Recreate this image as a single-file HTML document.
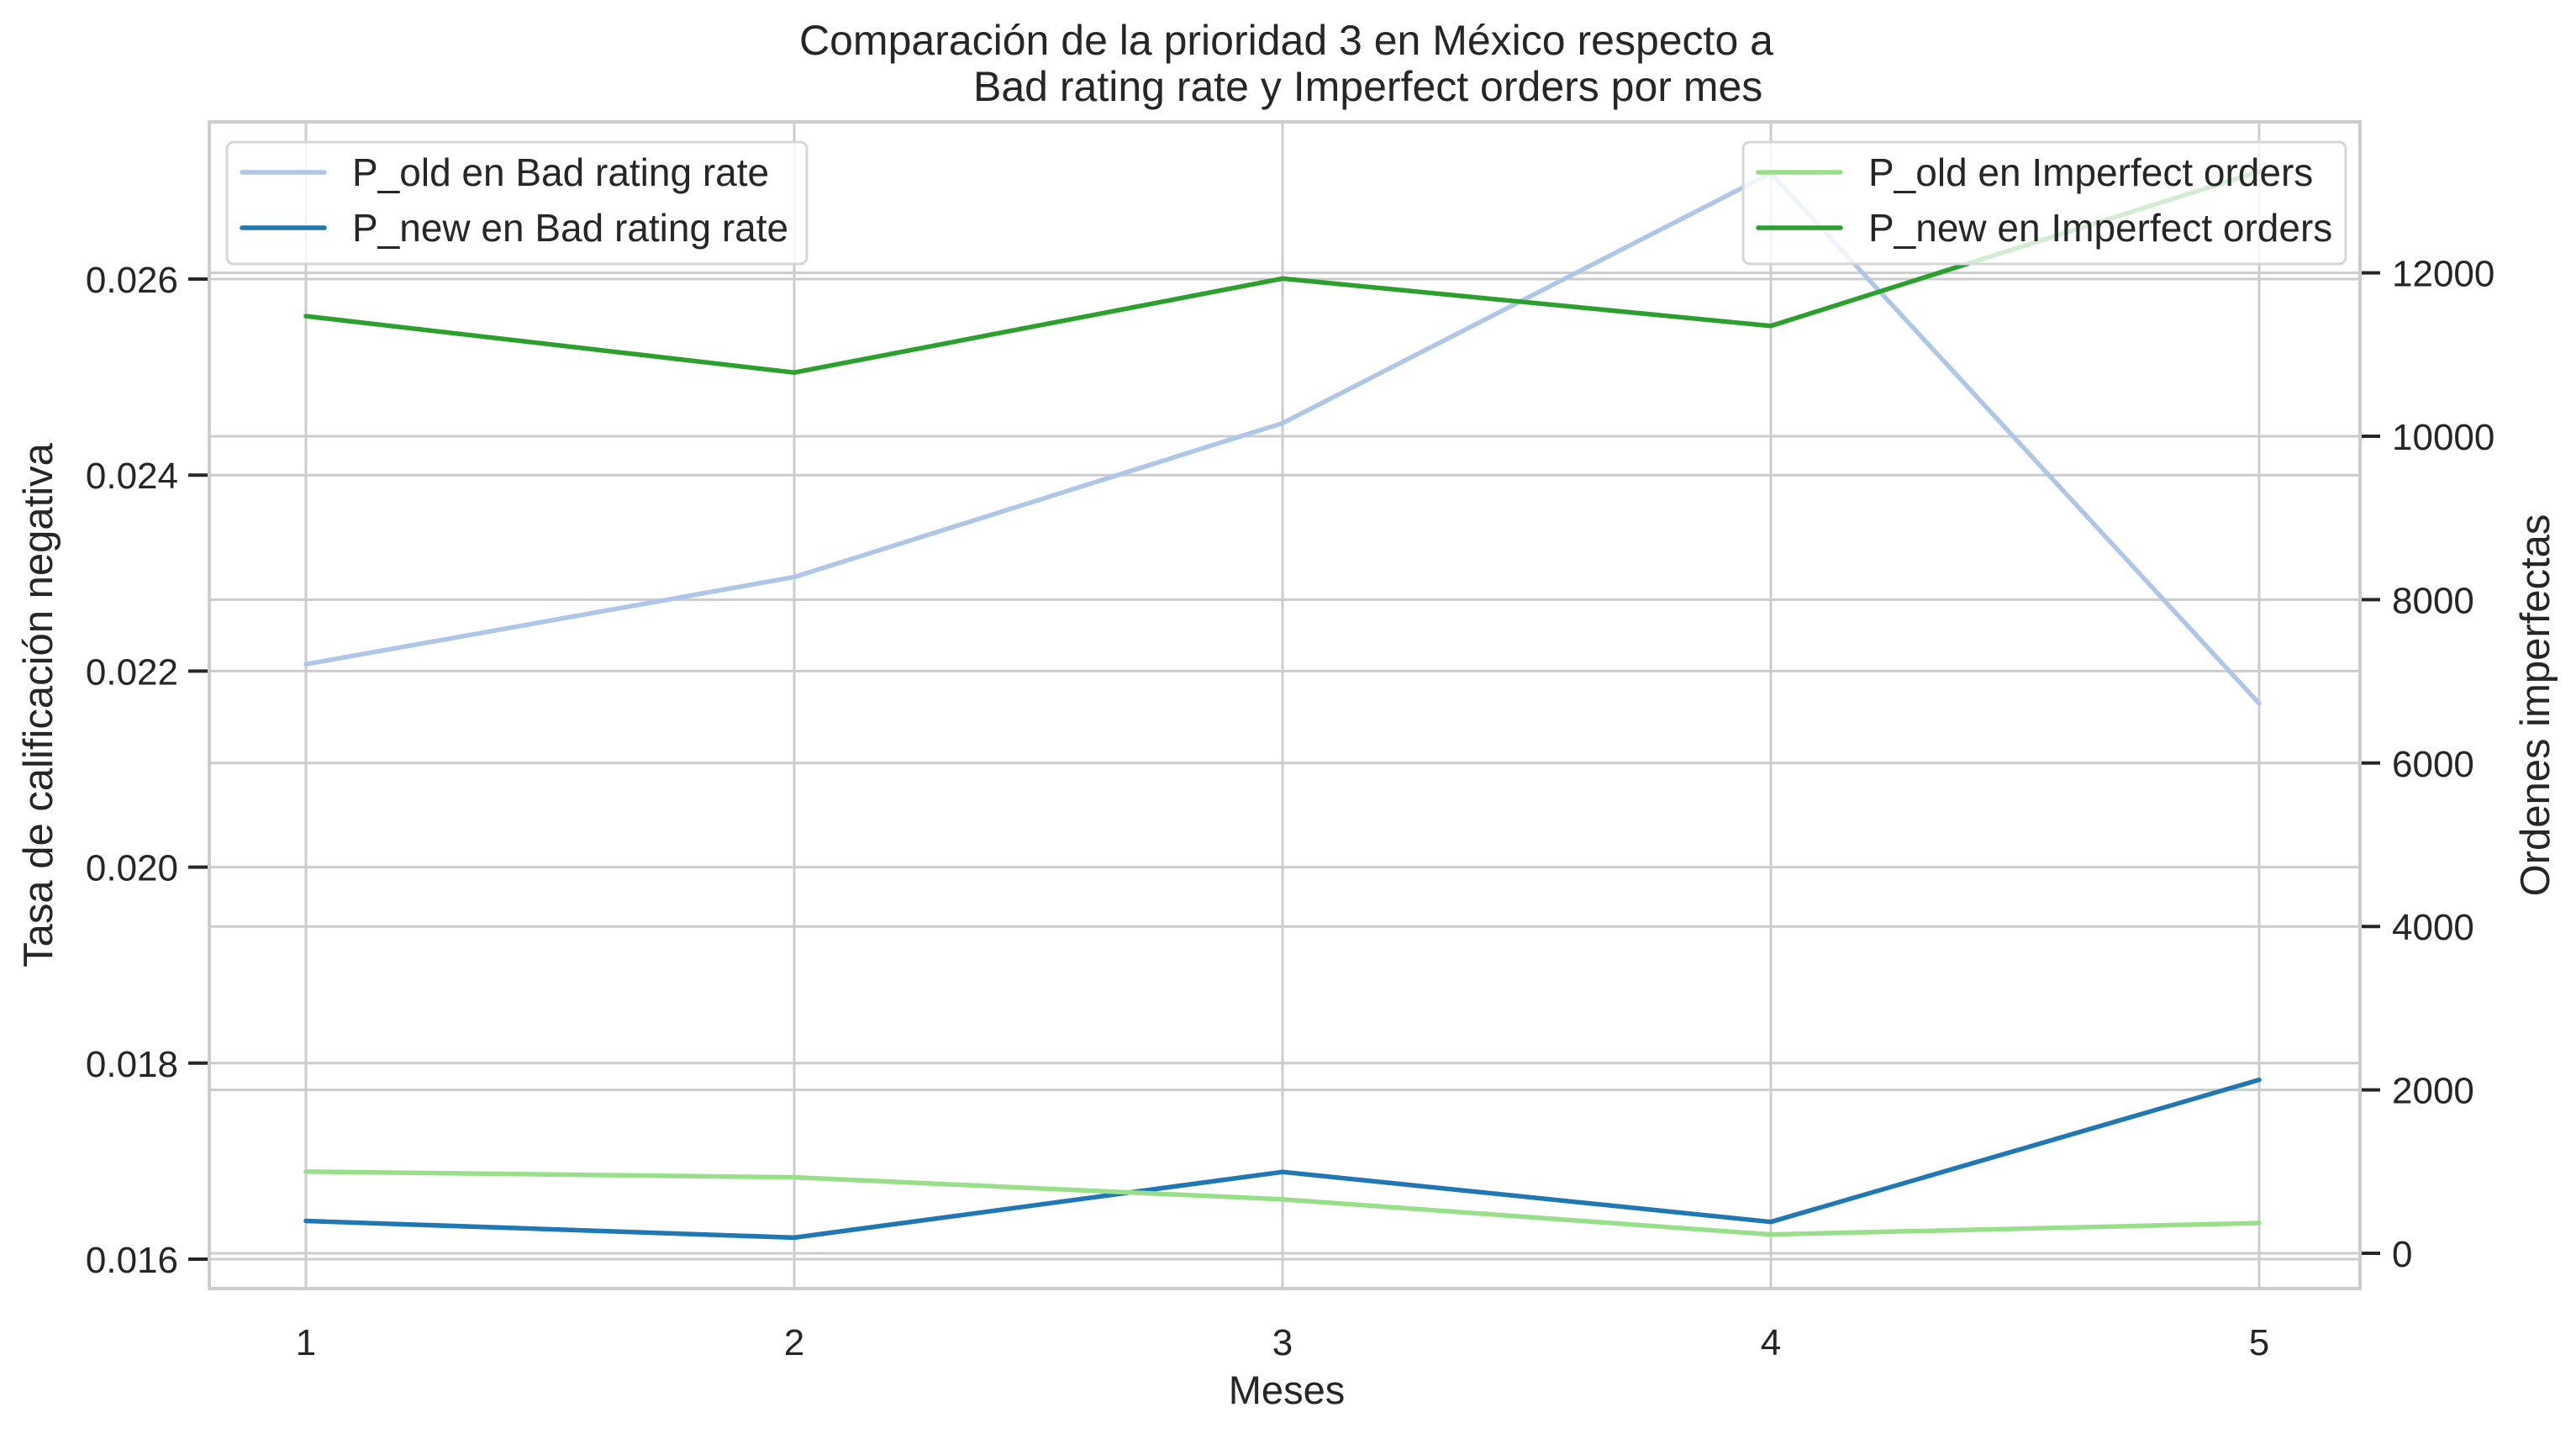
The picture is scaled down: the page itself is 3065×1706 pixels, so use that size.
<!DOCTYPE html>
<html><head><meta charset="utf-8"><style>body{margin:0;background:#fff}svg{display:block}text{font-family:"Liberation Sans",Arial,sans-serif;fill:#262626}</style></head>
<body>
<svg id="chart" width="3065" height="1706" viewBox="0 0 3065 1706">
<g id="grid"></g><g id="series"></g><g id="axes"></g><g id="legends"></g>
<text x="951" y="65" font-size="50">Comparación de la prioridad 3 en México respecto a</text>
<text x="1158" y="120" font-size="50">Bad rating rate y Imperfect orders por mes</text>
<text x="1531" y="1670" font-size="47" text-anchor="middle">Meses</text>
<text transform="translate(62,839) rotate(-90)" font-size="49" text-anchor="middle">Tasa de calificación negativa</text>
<text transform="translate(3033,839) rotate(-90)" font-size="49" text-anchor="middle">Ordenes imperfectas</text>
</svg>
<script>
const months = [1, 2, 3, 4, 5];
const badOld = [0.02207, 0.02296, 0.02453, 0.02708, 0.02167];
const badNew = [0.01639, 0.01622, 0.01689, 0.01638, 0.01783];
const impOld = [1000, 930, 660, 230, 370];
const impNew = [11470, 10780, 11930, 11350, 13240];
const leftTicks = [0.016, 0.018, 0.020, 0.022, 0.024, 0.026];
const rightTicks = [0, 2000, 4000, 6000, 8000, 10000, 12000];

const NS = "http://www.w3.org/2000/svg";
const L = 249, R = 2808, T = 145, B = 1533;
const xs = m => 364 + (m - 1) * 581;
const yl = v => 1498 - (v - 0.016) * 116600;
const yr = v => 1491 - v * 0.0972;
function mk(tag, attrs, parent) {
  const e = document.createElementNS(NS, tag);
  for (const k in attrs) e.setAttribute(k, attrs[k]);
  document.getElementById(parent).appendChild(e);
  return e;
}
const gc = "#cccccc";
months.forEach(m => {
  const l = mk("line", {x1: xs(m), x2: xs(m), y1: T, y2: B, stroke: gc, "stroke-width": 3}, "grid");
  
  
  const t = mk("text", {x: xs(m), y: 1612, "font-size": 44, "text-anchor": "middle"}, "axes");
  t.textContent = m;
  
  
});
leftTicks.forEach(v => {
  const l = mk("line", {x1: L, x2: R, y1: yl(v), y2: yl(v), stroke: gc, "stroke-width": 3}, "grid");
  
  
  const tk = mk("line", {x1: 224, x2: L, y1: yl(v), y2: yl(v), stroke: "#262626", "stroke-width": 4}, "axes");
  
  
  const t = mk("text", {x: 212, y: yl(v) + 16, "font-size": 44, "text-anchor": "end"}, "axes");
  t.textContent = v.toFixed(3);
  
  
});
rightTicks.forEach(v => {
  const l = mk("line", {x1: L, x2: R, y1: yr(v), y2: yr(v), stroke: gc, "stroke-width": 3}, "grid");
  
  
  const tk = mk("line", {x1: R, x2: 2832, y1: yr(v), y2: yr(v), stroke: "#262626", "stroke-width": 4}, "axes");
  
  
  const t = mk("text", {x: 2846, y: yr(v) + 16, "font-size": 44}, "axes");
  t.textContent = v;
  
  
});
const frame = mk("rect", {x: L, y: T, width: R - L, height: B - T, fill: "none", stroke: gc, "stroke-width": 4}, "axes");



const series = [
  {d: badOld, y: yl, c: "#aec7e8", n: "p-old-bad-rating-line"},
  {d: badNew, y: yl, c: "#1f77b4", n: "p-new-bad-rating-line"},
  {d: impOld, y: yr, c: "#98df8a", n: "p-old-imperfect-orders-line"},
  {d: impNew, y: yr, c: "#2ca02c", n: "p-new-imperfect-orders-line"}
];
series.forEach(s => {
  const p = mk("polyline", {points: s.d.map((v, i) => xs(months[i]) + "," + s.y(v)).join(" "), fill: "none", stroke: s.c, "stroke-width": 5.5, "stroke-linejoin": "round", "stroke-linecap": "round"}, "series");
  
  
});

function legend(x, w, items, name) {
  const box = mk("rect", {x: x, y: 169, width: w, height: 145, rx: 8, fill: "#fff", "fill-opacity": 0.8, stroke: "#d6d6d6", "stroke-width": 3}, "legends");
  
  
  items.forEach((it, i) => {
    const y = 205 + i * 66;
    const l = mk("line", {x1: x + 18, x2: x + 116, y1: y, y2: y, stroke: it[1], "stroke-width": 5.5, "stroke-linecap": "round"}, "legends");
    
    
    const t = mk("text", {x: x + 149, y: y + 16, "font-size": 46}, "legends");
    t.textContent = it[0];
    
    
  });
}
legend(270, 690, [["P_old en Bad rating rate", "#aec7e8"], ["P_new en Bad rating rate", "#1f77b4"]], "left-legend");
legend(2074, 717, [["P_old en Imperfect orders", "#98df8a"], ["P_new en Imperfect orders", "#2ca02c"]], "right-legend");
</script>
</body></html>
